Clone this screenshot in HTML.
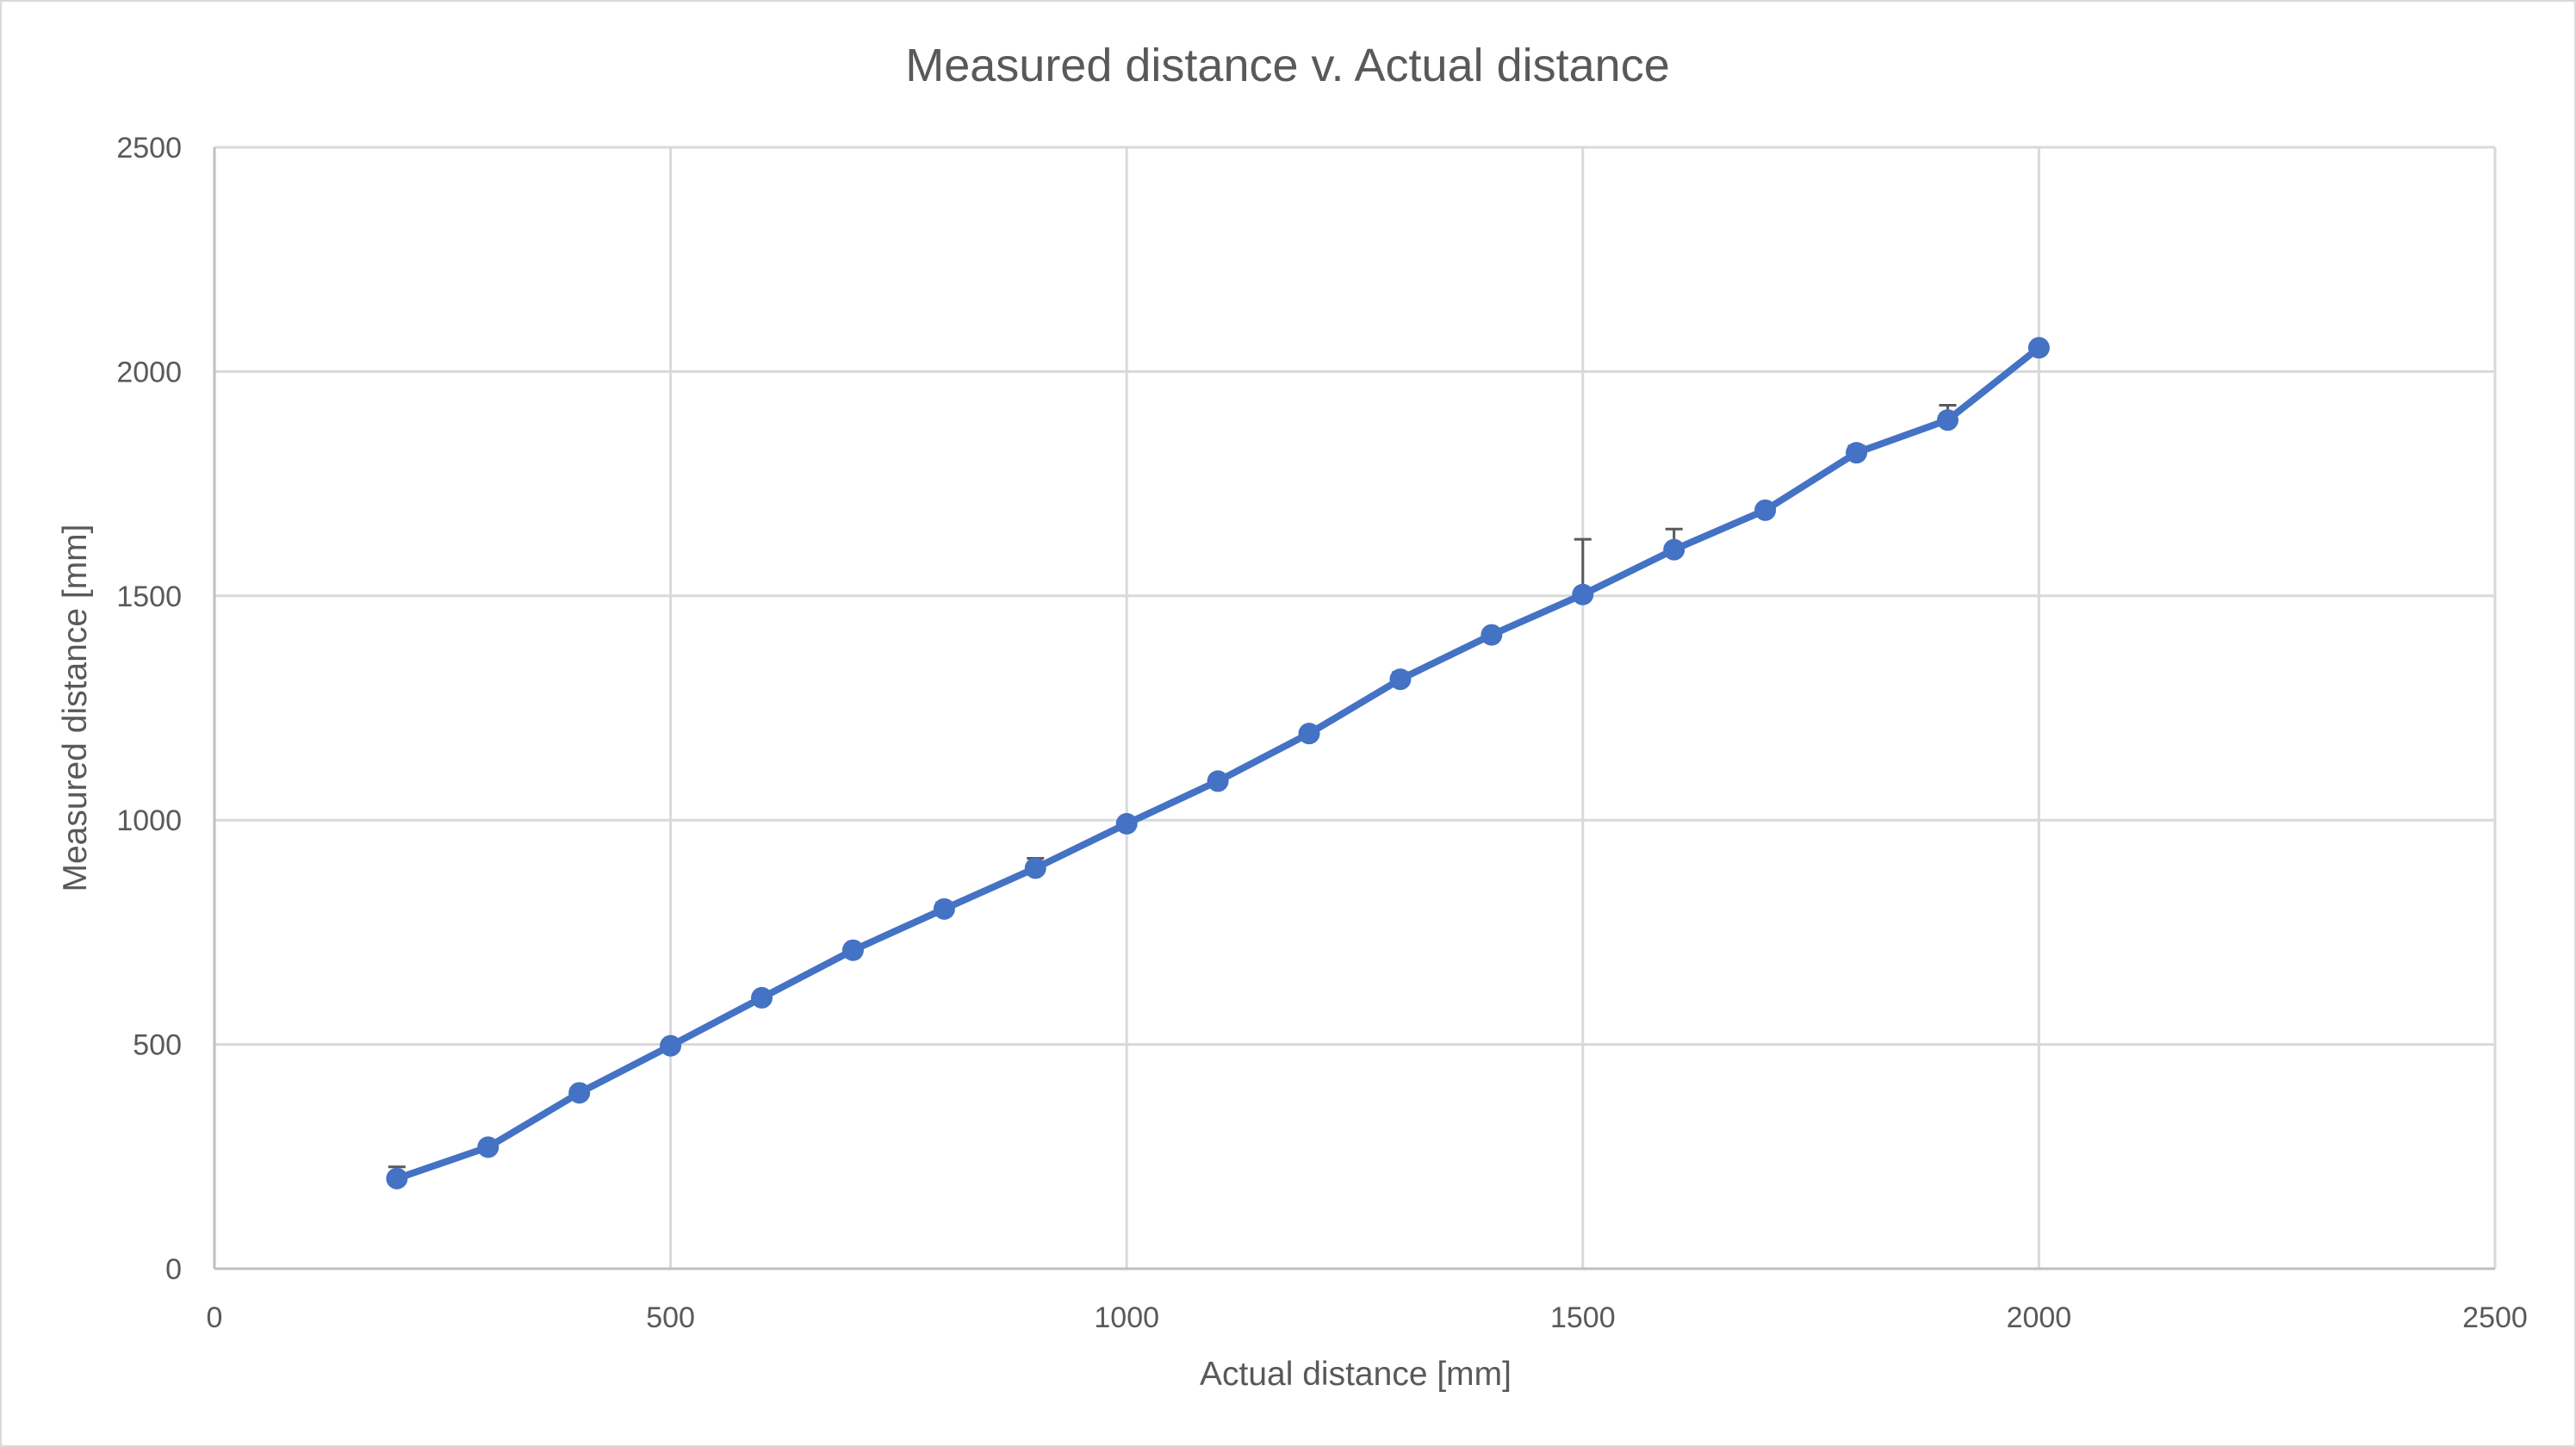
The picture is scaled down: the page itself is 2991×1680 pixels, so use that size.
<!DOCTYPE html>
<html><head><meta charset="utf-8"><style>
html,body{margin:0;padding:0;background:#fff;}
svg{display:block;font-family:"Liberation Sans",sans-serif;}
</style></head><body>
<svg width="2991" height="1680" viewBox="0 0 2991 1680" xmlns="http://www.w3.org/2000/svg">
<rect x="1" y="1" width="2989" height="1678" fill="#fff" stroke="#d9d9d9" stroke-width="2"/>
<text x="1495" y="94" text-anchor="middle" font-size="54" fill="#595959">Measured distance v. Actual distance</text>
<g id="grid"></g>
<g id="axes"></g>
<g id="series"></g>
<text x="1574" y="1608" text-anchor="middle" font-size="39" fill="#595959">Actual distance [mm]</text>
<text x="0" y="0" transform="translate(100,822) rotate(-90)" text-anchor="middle" font-size="39" fill="#595959">Measured distance [mm]</text>
</svg>
<script>
const xValues=[200,300,400,500,600,700,800,900,1000,1100,1200,1300,1400,1500,1600,1700,1800,1900,2000];
const yValues=[201,271,392,497,604,710,802,893,992,1087,1193,1314,1413,1503,1603,1691,1819,1892,2053];
const errPlus=[26,4,4,4,4,4,14,22,4,4,4,15,4,123,46,4,15,33,0];
const xTicks=[0,500,1000,1500,2000,2500];
const yTicks=[0,500,1000,1500,2000,2500];
const L=249,R=2897,T=171,B=1473;
function sx(v){return L+v/2500*(R-L);}
function sy(v){return B-v/2500*(B-T);}
const NS="http://www.w3.org/2000/svg";
function mk(tag,attrs,parent){const e=document.createElementNS(NS,tag);for(const k in attrs)e.setAttribute(k,attrs[k]);parent.appendChild(e);return e;}
const grid=document.getElementById('grid'),axes=document.getElementById('axes'),ser=document.getElementById('series');
xTicks.forEach(t=>{
 const l=mk('line',{x1:sx(t),x2:sx(t),y1:T,y2:B,stroke:'#d9d9d9','stroke-width':3},grid);
 
 
 const tx=mk('text',{x:sx(t),y:1541,'text-anchor':'middle','font-size':34,fill:'#595959'},axes);
 tx.textContent=t;
 
 
});
yTicks.forEach(t=>{
 const l=mk('line',{x1:L,x2:R,y1:sy(t),y2:sy(t),stroke:'#d9d9d9','stroke-width':3},grid);
 
 
 const tx=mk('text',{x:211,y:sy(t)+12,'text-anchor':'end','font-size':34,fill:'#595959'},axes);
 tx.textContent=t;
 
 
});
const ax1=mk('line',{x1:L,x2:R,y1:B,y2:B,stroke:'#bfbfbf','stroke-width':3},axes);


const ax2=mk('line',{x1:L,x2:L,y1:T,y2:B,stroke:'#bfbfbf','stroke-width':3},axes);


xValues.forEach((x,i)=>{
 if(errPlus[i]<=0)return;
 const g=mk('g',{stroke:'#595959','stroke-width':3},ser);
 
 
 mk('line',{x1:sx(x),x2:sx(x),y1:sy(yValues[i]),y2:sy(yValues[i]+errPlus[i])},g);
 mk('line',{x1:sx(x)-10,x2:sx(x)+10,y1:sy(yValues[i]+errPlus[i]),y2:sy(yValues[i]+errPlus[i])},g);
});
const pl=mk('polyline',{points:xValues.map((x,i)=>sx(x)+','+sy(yValues[i])).join(' '),fill:'none',stroke:'#4472c4','stroke-width':8,'stroke-linejoin':'round'},ser);


xValues.forEach((x,i)=>{
 const c=mk('circle',{cx:sx(x),cy:sy(yValues[i]),r:12.5,fill:'#4472c4'},ser);
 
 
});
</script>
</body></html>
